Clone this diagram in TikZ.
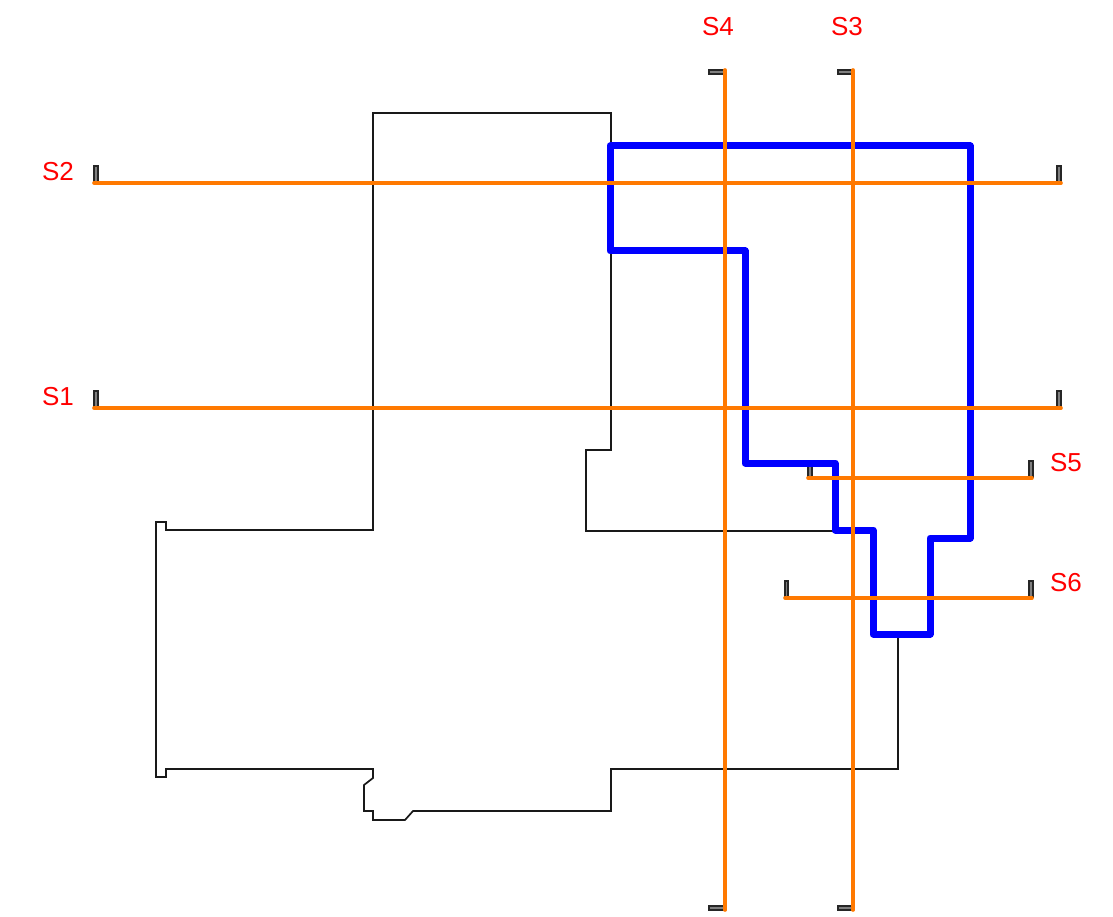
\documentclass[tikz,border=0pt]{standalone}
\usepackage{fontspec}
\setmainfont{Liberation Sans}
\tikzset{
    outline/.style={draw=black!90,line width=1.7pt,line join=miter},
    zone/.style={draw=blue,line width=7pt,line join=round},
    cutline/.style={draw=orange!95!red,line width=3.6pt,line cap=round},
    cutmark/.style={draw=black!85,fill=black!50,line width=1.4pt},
    cutlabel/.style={text=red,font=\fontsize{26}{28}\selectfont,inner sep=0pt}
}
\begin{document}
\begin{tikzpicture}[x=1pt,y=-1pt]

        \useasboundingbox (0,0) rectangle (1113,917);

        \draw[outline] (835,531) -- (586,531) -- (586,450) -- (611,450) -- (611,113) -- (373,113)
            -- (373,530) -- (166,530) -- (166,522) -- (156,522) -- (156,777) -- (166,777)
            -- (166,769) -- (373,769) -- (373,778) -- (364,785) -- (364,811) -- (373,811)
            -- (373,820) -- (405,820) -- (413,811) -- (611,811) -- (611,769) -- (898,769) -- (898,634);

        \draw[cutmark] (94,166) rectangle (98,182);
        \draw[cutmark] (1057,166) rectangle (1061,182);
        \draw[cutmark] (94,391) rectangle (98,407);
        \draw[cutmark] (1057,391) rectangle (1061,407);
        \draw[cutmark] (709,70) rectangle (724,74);
        \draw[cutmark] (838,70) rectangle (852,74);
        \draw[cutmark] (709,906) rectangle (724,910);
        \draw[cutmark] (838,906) rectangle (852,910);
        \draw[cutmark] (808,461) rectangle (812,477);
        \draw[cutmark] (1029,461) rectangle (1033,477);
        \draw[cutmark] (785,581) rectangle (788,597);
        \draw[cutmark] (1029,581) rectangle (1033,597);

        \draw[zone] (610,146) -- (970,146) -- (970,538) -- (930,538) -- (930,634) -- (873,634)
            -- (873,530) -- (835,530) -- (835,463) -- (745,463) -- (745,251) -- (610,251) -- cycle;

        \coordinate (s1l) at (94,408);
        \coordinate (s1r) at (1061,408);
        \coordinate (s2l) at (94,183);
        \coordinate (s2r) at (1061,183);
        \coordinate (s3t) at (853,70);
        \coordinate (s3b) at (853,910);
        \coordinate (s4t) at (725,70);
        \coordinate (s4b) at (725,910);
        \coordinate (s5l) at (808,478);
        \coordinate (s5r) at (1032,478);
        \coordinate (s6l) at (785,598);
        \coordinate (s6r) at (1032,598);

        \draw[cutline] (s1l) -- (s1r);
        \draw[cutline] (s2l) -- (s2r);
        \draw[cutline] (s3t) -- (s3b);
        \draw[cutline] (s4t) -- (s4b);
        \draw[cutline] (s5l) -- (s5r);
        \draw[cutline] (s6l) -- (s6r);

        \node[cutlabel] (s1) at (58,397) {S1};
        \node[cutlabel] (s2) at (58,172) {S2};
        \node[cutlabel] (s3) at (847,27) {S3};
        \node[cutlabel] (s4) at (718,27) {S4};
        \node[cutlabel] (s5) at (1066,463) {S5};
        \node[cutlabel] (s6) at (1066,583) {S6};

\end{tikzpicture}
\end{document}
